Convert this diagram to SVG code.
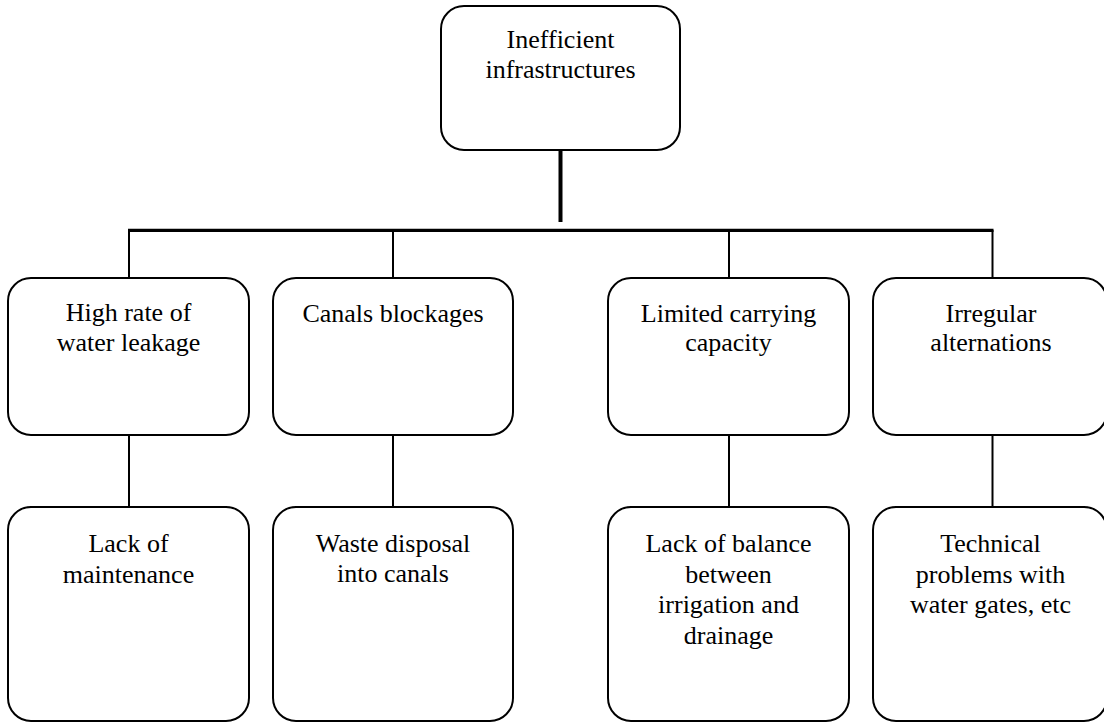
<svg xmlns="http://www.w3.org/2000/svg" width="1104" height="723" viewBox="0 0 1104 723">
  <style>
    .box { fill: #ffffff; stroke: #000000; stroke-width: 2; }
    .lbl { font-family: "Liberation Serif", "Times New Roman", serif; font-size: 26px; fill: #000000; text-anchor: middle; }
    .link { stroke: #000000; stroke-width: 2; fill: none; }
    .trunk { stroke: #000000; stroke-width: 4; fill: none; }
    .bar { stroke: #000000; stroke-width: 3.3; fill: none; }
  </style>
  <rect width="1104" height="723" fill="#ffffff"/>

  <!-- connectors -->
  <g id="connectors">
    <line class="trunk" x1="560.5" y1="150" x2="560.5" y2="222"/>
    <line class="bar" x1="128" y1="230.3" x2="993.5" y2="230.3"/>
    <line class="link" x1="129" y1="230" x2="129" y2="278"/>
    <line class="link" x1="393" y1="230" x2="393" y2="278"/>
    <line class="link" x1="729" y1="230" x2="729" y2="278"/>
    <line class="link" x1="992.5" y1="230" x2="992.5" y2="278"/>
    <line class="link" x1="129" y1="435" x2="129" y2="507"/>
    <line class="link" x1="393" y1="435" x2="393" y2="507"/>
    <line class="link" x1="729" y1="435" x2="729" y2="507"/>
    <line class="link" x1="992.5" y1="435" x2="992.5" y2="507"/>
  </g>

  <!-- root -->
  <g id="node-root">
    <rect class="box" x="441" y="6" width="239" height="144" rx="23"/>
    <text class="lbl" x="560.5" y="48">Inefficient</text>
    <text class="lbl" x="560.5" y="78">infrastructures</text>
  </g>

  <!-- causes -->
  <g id="node-leakage">
    <rect class="box" x="8" y="278" width="241" height="157" rx="23"/>
    <text class="lbl" x="128.5" y="321">High rate of</text>
    <text class="lbl" x="128.5" y="351">water leakage</text>
  </g>
  <g id="node-blockages">
    <rect class="box" x="273" y="278" width="240" height="157" rx="23"/>
    <text class="lbl" x="393" y="322">Canals blockages</text>
  </g>
  <g id="node-capacity">
    <rect class="box" x="608" y="278" width="241" height="157" rx="23"/>
    <text class="lbl" x="728.5" y="322">Limited carrying</text>
    <text class="lbl" x="728.5" y="351">capacity</text>
  </g>
  <g id="node-alternations">
    <rect class="box" x="873" y="278" width="234" height="157" rx="23"/>
    <text class="lbl" x="991" y="322">Irregular</text>
    <text class="lbl" x="991" y="351">alternations</text>
  </g>

  <!-- root causes -->
  <g id="node-maintenance">
    <rect class="box" x="8" y="507" width="241" height="214" rx="23"/>
    <text class="lbl" x="128.5" y="552">Lack of</text>
    <text class="lbl" x="128.5" y="583">maintenance</text>
  </g>
  <g id="node-waste">
    <rect class="box" x="273" y="507" width="240" height="214" rx="23"/>
    <text class="lbl" x="393" y="552">Waste disposal</text>
    <text class="lbl" x="393" y="582">into canals</text>
  </g>
  <g id="node-balance">
    <rect class="box" x="608" y="507" width="241" height="214" rx="23"/>
    <text class="lbl" x="728.5" y="552">Lack of balance</text>
    <text class="lbl" x="728.5" y="583">between</text>
    <text class="lbl" x="728.5" y="613">irrigation and</text>
    <text class="lbl" x="728.5" y="644">drainage</text>
  </g>
  <g id="node-gates">
    <rect class="box" x="873" y="507" width="234" height="214" rx="23"/>
    <text class="lbl" x="990.5" y="552">Technical</text>
    <text class="lbl" x="990.5" y="583">problems with</text>
    <text class="lbl" x="990.5" y="613">water gates, etc</text>
  </g>
</svg>
